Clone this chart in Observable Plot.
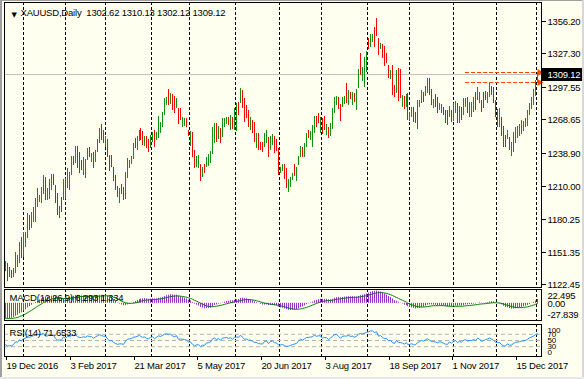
<!DOCTYPE html>
<html><head><meta charset="utf-8">
<script src="https://cdn.jsdelivr.net/npm/d3@7"></script>
<script src="https://cdn.jsdelivr.net/npm/@observablehq/plot@0.6"></script>
<style>
html,body{margin:0;padding:0;background:#fffff0;}
#chart{position:relative;width:584px;height:379px;overflow:hidden;background:#fffff0;}
#chart svg{position:absolute;left:0;}
#chart svg text{letter-spacing:-0.2px;}
.edge{position:absolute;}
</style></head><body><div id="chart"></div>
<script>
// ---- data (XAUUSD daily) ----
const symbolTitle = "XAUUSD,Daily  1302.62 1310.13 1302.12 1309.12";
const barDir =
 "GRRRGGGGRG"+"GGRGGGGGGG"+"RGGGRRRGRG"+"RGGGRGRRRG"+"GGRGRGGGRR"+
 "GRRRRRRGRR"+"GGGGGRGGRR"+"GRRGGRGGGG"+"GGRGRRGRRG"+"GRRGRRGGRG"+
 "RGGGGGRGRG"+"GGRGRGGRGR"+"RRRGRRGRRR"+"GGRGGRRRGG"+"RRGGGRGGGR"+
 "GGRGGGRRGR"+"RGRGGGGRRG"+"GRGRGRGGRG"+"GGRGGRRRGR"+"RRRGRRGRRG"+
 "RGRGGRRGGG"+"RGGRRGRRGG"+"RRRGRGGRGR"+"GGRGGGRGGR"+"RRGGRRRGGR"+
 "RRGRGGGGGG"+"GGGGGGGG";
const high = [
1143.1,1141.6,1138.1,1135.1,1136.6,1151.1,1148.4,1160.3,1164.1,1169.1,
1169.1,1185.4,1183.9,1186.9,1191.3,1198.7,1207.6,1201.7,1209.0,1219.4,
1217.9,1207.6,1215.8,1220.3,1220.3,1210.5,1203.1,1191.9,1200.2,1215.8,
1216.4,1225.3,1222.3,1236.2,1236.2,1245.1,1245.1,1240.1,1232.7,1235.6,
1233.3,1243.0,1243.9,1238.6,1240.1,1241.6,1251.0,1260.8,1264.6,1259.3,
1254.0,1251.0,1237.1,1237.1,1226.8,1219.4,1209.9,1207.6,1211.4,1208.5,
1222.3,1234.2,1232.7,1236.2,1248.1,1251.9,1254.0,1259.3,1261.3,1258.0,
1254.0,1253.6,1251.0,1255.0,1257.8,1259.3,1257.8,1271.7,1266.6,1275.5,
1287.4,1288.8,1295.3,1291.8,1291.2,1289.4,1287.4,1278.5,1278.5,1271.1,
1269.6,1269.6,1259.3,1258.7,1257.8,1241.5,1236.2,1237.1,1229.1,1226.8,
1229.1,1235.6,1238.0,1241.0,1262.2,1265.8,1265.8,1262.8,1260.8,1269.6,
1269.6,1270.5,1270.5,1272.6,1270.5,1278.5,1282.9,1284.4,1296.2,1294.7,
1287.4,1281.4,1277.0,1270.5,1268.1,1266.6,1256.3,1256.3,1248.9,1248.9,
1256.9,1259.3,1253.3,1253.9,1255.7,1253.9,1251.0,1243.0,1226.8,1229.1,
1229.1,1225.3,1215.5,1217.9,1220.9,1229.1,1226.2,1236.2,1245.1,1244.5,
1248.0,1256.9,1259.3,1258.7,1263.7,1271.7,1271.7,1274.1,1271.1,1269.6,
1271.7,1264.6,1262.2,1265.2,1279.1,1288.3,1289.4,1288.3,1282.3,1288.3,
1289.4,1301.3,1294.8,1293.3,1293.3,1291.8,1295.6,1313.1,1327.3,1314.9,
1324.3,1329.6,1340.6,1344.4,1344.4,1350.9,1358.3,1340.6,1336.1,1335.5,
1333.8,1327.3,1316.9,1312.5,1316.9,1299.2,1312.5,1314.0,1313.1,1290.3,
1289.4,1291.2,1291.8,1275.5,1279.4,1280.0,1275.5,1285.9,1285.9,1294.7,
1293.3,1298.3,1305.1,1305.1,1295.3,1286.5,1291.2,1288.8,1283.5,1282.3,
1279.9,1277.0,1277.0,1280.5,1277.0,1282.9,1285.0,1282.9,1280.5,1279.9,
1287.3,1287.3,1288.8,1284.4,1284.4,1288.8,1293.3,1297.1,1293.3,1285.9,
1293.3,1294.1,1293.3,1300.6,1298.3,1297.1,1285.9,1277.6,1278.5,1271.1,
1262.8,1254.8,1259.3,1252.8,1248.9,1257.8,1262.2,1262.8,1264.6,1268.1,
1267.5,1269.6,1277.0,1282.9,1288.8,1295.3,1303.4,1310.13];
const low = [
1134.6,1125.7,1129.2,1127.8,1129.2,1132.2,1138.1,1141.1,1145.5,1147.0,
1155.8,1163.2,1170.6,1172.1,1178.0,1178.0,1191.3,1195.8,1194.3,1202.5,
1197.2,1197.2,1198.1,1206.1,1210.5,1194.3,1183.9,1181.0,1186.9,1197.2,
1198.1,1207.6,1206.1,1219.4,1228.3,1229.7,1225.3,1220.9,1223.8,1219.4,
1217.0,1232.7,1235.0,1231.2,1225.9,1231.2,1240.1,1247.5,1250.4,1247.5,
1244.5,1235.0,1223.2,1226.8,1214.4,1206.1,1199.6,1194.9,1202.5,1197.2,
1197.8,1216.4,1225.3,1229.2,1233.3,1243.0,1241.6,1249.5,1250.4,1246.0,
1245.1,1243.0,1240.1,1243.5,1248.9,1243.9,1250.4,1251.9,1256.9,1262.2,
1272.6,1281.4,1281.4,1282.3,1277.0,1274.6,1278.5,1264.6,1268.1,1262.2,
1262.8,1262.2,1254.0,1245.1,1235.6,1225.3,1226.2,1225.3,1214.3,1217.3,
1220.9,1226.2,1227.4,1229.7,1238.0,1247.5,1249.0,1251.0,1247.5,1253.4,
1262.2,1264.6,1263.7,1259.3,1259.9,1259.3,1258.7,1272.6,1282.9,1278.5,
1266.6,1269.6,1262.2,1259.3,1256.9,1248.9,1243.0,1241.5,1241.5,1240.0,
1243.9,1247.5,1235.6,1241.5,1246.0,1238.6,1240.5,1219.4,1220.9,1223.2,
1215.5,1207.6,1204.6,1209.0,1214.9,1218.5,1214.4,1228.2,1235.6,1235.6,
1235.6,1243.9,1251.9,1250.4,1243.9,1256.9,1261.6,1265.8,1256.9,1255.7,
1259.3,1254.8,1251.9,1254.0,1259.9,1274.7,1281.5,1277.6,1267.6,1280.0,
1282.3,1282.9,1281.5,1286.5,1281.5,1284.4,1277.0,1296.2,1308.1,1303.0,
1297.7,1311.0,1330.8,1333.2,1337.6,1333.2,1342.6,1325.8,1330.8,1322.8,
1316.0,1319.0,1305.1,1304.2,1290.3,1288.3,1291.8,1285.3,1287.4,1280.0,
1277.6,1280.0,1268.1,1267.5,1271.1,1266.6,1265.8,1260.1,1280.0,1282.9,
1284.4,1289.4,1291.8,1290.3,1281.4,1278.5,1280.0,1274.0,1277.0,1274.6,
1272.6,1265.2,1263.7,1271.1,1266.6,1267.5,1274.0,1265.8,1265.8,1268.1,
1272.6,1279.9,1274.0,1271.1,1271.1,1275.5,1277.0,1285.9,1282.9,1275.5,
1278.5,1285.9,1282.9,1288.8,1290.3,1283.5,1271.1,1261.6,1262.2,1253.9,
1244.5,1243.9,1251.0,1241.5,1236.2,1240.0,1247.4,1251.9,1253.9,1255.7,
1258.7,1262.2,1262.8,1272.6,1277.6,1281.4,1289.0,1302.12];
const close = [
1141.0,1129.7,1131.4,1129.6,1134.8,1146.4,1145.8,1155.5,1150.2,1163.6,
1165.8,1179.9,1173.9,1183.2,1188.0,1193.5,1203.5,1200.2,1205.3,1215.2,
1202.4,1205.0,1211.4,1216.7,1213.0,1198.4,1188.7,1189.2,1190.2,1211.2,
1202.7,1220.9,1218.2,1232.0,1230.3,1241.3,1230.3,1225.7,1226.0,1231.6,
1229.2,1240.4,1237.2,1236.8,1229.5,1239.0,1248.3,1257.5,1254.0,1250.5,
1251.6,1239.0,1226.7,1229.4,1217.5,1209.4,1202.2,1204.4,1204.7,1200.0,
1216.2,1229.8,1230.9,1234.5,1244.4,1245.2,1250.9,1256.9,1253.1,1249.0,
1251.8,1245.6,1242.8,1252.1,1255.6,1247.7,1256.0,1266.8,1264.2,1272.2,
1283.7,1287.0,1284.9,1289.4,1280.6,1278.3,1285.2,1268.1,1270.7,1268.9,
1267.9,1264.1,1255.3,1255.3,1241.2,1229.4,1233.7,1234.2,1218.0,1224.4,
1223.0,1233.3,1235.4,1238.2,1256.2,1261.2,1253.2,1259.9,1250.8,1265.6,
1267.8,1269.0,1265.4,1269.3,1262.5,1273.7,1276.9,1275.5,1292.9,1282.5,
1271.8,1272.5,1265.9,1267.7,1259.7,1253.3,1253.0,1245.2,1243.4,1242.2,
1253.6,1256.3,1240.0,1250.8,1253.3,1242.4,1241.5,1225.3,1225.3,1227.6,
1218.9,1212.0,1212.8,1215.7,1219.4,1221.2,1223.2,1234.2,1242.7,1237.8,
1244.9,1253.6,1253.8,1256.6,1258.7,1268.0,1264.1,1267.9,1267.5,1259.2,
1262.4,1262.2,1254.5,1262.4,1274.3,1284.9,1287.4,1280.3,1271.3,1286.2,
1287.6,1287.5,1291.5,1288.2,1290.3,1286.2,1291.0,1308.9,1312.9,1312.0,
1317.7,1325.0,1333.3,1341.6,1342.7,1337.6,1346.5,1329.5,1334.8,1326.0,
1320.5,1321.1,1308.1,1310.4,1297.0,1291.0,1307.3,1292.5,1293.8,1287.7,
1280.6,1288.4,1274.0,1273.5,1277.3,1270.0,1268.2,1279.5,1284.4,1291.8,
1286.6,1296.1,1301.8,1294.0,1284.9,1284.5,1282.8,1277.7,1281.9,1280.4,
1274.4,1268.2,1267.0,1278.2,1269.2,1279.0,1282.3,1270.1,1276.8,1271.1,
1283.6,1285.5,1277.7,1281.1,1281.1,1285.5,1281.1,1294.3,1290.7,1278.1,
1282.2,1287.9,1290.7,1297.6,1292.3,1286.9,1274.8,1273.6,1274.4,1258.2,
1249.1,1246.6,1257.2,1244.3,1245.7,1253.3,1258.5,1260.1,1261.9,1265.0,
1265.3,1267.7,1273.4,1280.3,1286.0,1291.8,1302.5,1309.12];
const priceTicks = [1356.20, 1327.30, 1297.55, 1268.65, 1238.90, 1210.00, 1180.25, 1151.35, 1122.45];
const bidPrice = 1309.12;
const orderLevels = [1311.0, 1301.6];
const orderFromBar = 231;
const monthStartBar = [9.2, 30.2, 50.3, 73.1, 92.3, 115.4, 137.4, 158.5, 181.5, 202.8, 224.8, 246.6, 266.7];
const dateLabelBar = [0, 32, 64, 96, 128, 160, 192, 224, 256];
const dateLabels = ["19 Dec 2016", "3 Feb 2017", "21 Mar 2017", "5 May 2017", "20 Jun 2017", "3 Aug 2017", "18 Sep 2017", "1 Nov 2017", "15 Dec 2017"];
const macdTitle = "MACD(12,26,9) 6.293 1.334";
const macdScale = [22.495, 0, -27.839];
const macdScaleText = ["22.495", "0.00", "-27.839"];
const rsiTitle = "RSI(14) 71.6533";
const rsiLevels = [70, 50, 30];
const rsiScale = [100, 70, 50, 30, 0];
// indicator state before the first bar (estimated from prior history)
const macdSeed = {ema12: 1155, ema26: 1181, signal: -24};
const rsiSeed = {gain: 2.0, loss: 4.0, prevClose: 1137};

// ---- derived ----
const bars = high.map((h, i) => ({i, high: h, low: low[i], close: close[i], up: barDir[i] === "G"}));
function emaSeries(values, n, seed) { const k = 2 / (n + 1); let e = seed; return values.map(v => (e += k * (v - e))); }
const ema12 = emaSeries(close, 12, macdSeed.ema12);
const ema26 = emaSeries(close, 26, macdSeed.ema26);
const macd = ema12.map((v, i) => v - ema26[i]);
const signal = emaSeries(macd, 9, macdSeed.signal);
let ag = rsiSeed.gain, al = rsiSeed.loss, prev = rsiSeed.prevClose;
const rsi = close.map(c => { const d = c - prev; prev = c; ag = (ag * 13 + Math.max(d, 0)) / 14; al = (al * 13 + Math.max(-d, 0)) / 14; return 100 - 100 / (1 + ag / al); });
bars.forEach((b, i) => { b.macd = macd[i]; b.signal = signal[i]; b.rsi = rsi[i]; });

const UP = "#109010", DOWN = "#ff0000", ORANGE = "#ff4500";
const style = {fontFamily: "'Liberation Sans', Arial, sans-serif", fontSize: "9.5px", background: "transparent", color: "black", overflow: "visible"};
const xOpt = {domain: [-0.502, 269.0], round: true, axis: null};
const W = 584, ML = 4, MR = 43;
const grid = () => Plot.ruleX(monthStartBar, {stroke: "black", strokeWidth: 1, strokeDasharray: "3,2"});
const NS = "http://www.w3.org/2000/svg";
const el = (tag, attrs, txt) => { const e = document.createElementNS(NS, tag); for (const k in attrs) e.setAttribute(k, attrs[k]); if (txt != null) e.textContent = txt; return e; };

const main = Plot.plot({
  width: W, height: 289, marginLeft: ML, marginRight: MR, marginTop: 2, marginBottom: 2,
  style,
  x: xOpt,
  y: {domain: [1120.05, 1372.78], round: true},
  marks: [
    grid(),
    Plot.ruleY([bidPrice], {stroke: "#c0c0c0"}),
    Plot.ruleX(bars, {x: "i", y1: "low", y2: "high", stroke: d => d.up ? UP : DOWN, strokeWidth: 1}),
    Plot.ruleY(orderLevels, {x1: orderFromBar, x2: bars.length - 0.5, stroke: ORANGE, strokeDasharray: "4,2"}),
    Plot.dot(orderLevels, {x: bars.length, y: d => d, symbol: "triangle", rotate: 90, r: 2.6, fill: ORANGE, stroke: "none"}),
    Plot.axisY({anchor: "right", ticks: priceTicks, tickSize: 4, tickPadding: 2, tickFormat: d3.format(".2f"), label: null}),
    Plot.frame({stroke: "black"}),
    (index, scales) => {
      const yy = Math.round(scales.y(bidPrice));
      const g = el("g", {"text-anchor": "start"});
      g.appendChild(el("rect", {x: 542, y: yy - 6, width: 40, height: 13, fill: "black"}));
      g.appendChild(el("text", {x: 547.5, y: yy + 0.5, fill: "white", "text-anchor": "start", "dominant-baseline": "central"}, bidPrice.toFixed(2)));
      return g;
    },
    Plot.text(["\u25BC"], {frameAnchor: "top-left", dx: 7, dy: 10, fontSize: 7, fontFamily: "DejaVu Sans", fill: "black"}),
    Plot.text([symbolTitle], {frameAnchor: "top-left", dx: 16, dy: 10.5, lineAnchor: "middle", fill: "black"})
  ]
});
main.style.top = "0px";

const macdPlot = Plot.plot({
  width: W, height: 33, marginLeft: ML, marginRight: MR, marginTop: 1, marginBottom: 1,
  style,
  x: xOpt,
  y: {domain: [macdScale[2], macdScale[0]], axis: null},
  marks: [
    grid(),
    Plot.ruleX(bars, {x: "i", y1: 0, y2: "macd", stroke: "#9932cc", strokeWidth: 1}),
    Plot.line(bars, {x: "i", y: "signal", stroke: "#008000", strokeWidth: 1}),
    Plot.frame({stroke: "black"}),
    Plot.text([macdTitle], {frameAnchor: "top-left", dx: 5, dy: 8, lineAnchor: "middle", fill: "black"}),
    Plot.text([0], {y: () => macdScale[0], text: () => macdScaleText[0], frameAnchor: "right", dx: 6, dy: 6, textAnchor: "start", fill: "black"}),
    Plot.text([0], {y: () => macdScale[1], text: () => macdScaleText[1], frameAnchor: "right", dx: 6, dy: 0.5, textAnchor: "start", fill: "black"}),
    Plot.text([0], {y: () => macdScale[2], text: () => macdScaleText[2], frameAnchor: "right", dx: 6, dy: -6, textAnchor: "start", fill: "black"})
  ]
});
macdPlot.style.top = "288px";

const rsiPlot = Plot.plot({
  width: W, height: 57, marginLeft: ML, marginRight: MR, marginTop: 2, marginBottom: 23,
  style,
  x: {...xOpt},
  y: {domain: [0, 100], inset: 0.5, axis: null},
  marks: [
    grid(),
    Plot.ruleY(rsiLevels, {stroke: "#b4b4b4", strokeDasharray: "4,3"}),
    Plot.line(bars, {x: "i", y: "rsi", stroke: "#1e90ff", strokeWidth: 1}),
    Plot.frame({stroke: "black"}),
    Plot.text([rsiTitle], {frameAnchor: "top-left", dx: 5, dy: 8, lineAnchor: "middle", fill: "black"}),
    Plot.text(rsiScale.filter(d => d !== 100 && d !== 0), {y: d => d, text: d => String(d), frameAnchor: "right", dx: 6, textAnchor: "start", fill: "black", fontSize: 8}),
    Plot.text([rsiScale[0]], {y: d => d, text: d => String(d), frameAnchor: "right", dx: 6, dy: 5, textAnchor: "start", fill: "black", fontSize: 8}),
    Plot.text([rsiScale[4]], {y: d => d, text: d => String(d), frameAnchor: "right", dx: 6, dy: -4, textAnchor: "start", fill: "black", fontSize: 8}),
    Plot.axisX(dateLabelBar, {anchor: "bottom", tickSize: 4, tickPadding: 2, textAnchor: "start", dx: 1,
      tickFormat: d => dateLabels[dateLabelBar.indexOf(d)], label: null})
  ]
});
rsiPlot.style.top = "322px";

const chart = document.getElementById("chart");
chart.append(main, macdPlot, rsiPlot);
// window edges
[["left:0;top:0;width:2px;height:379px;background:#a0a0a0"],
 ["left:0;top:0;width:584px;height:1px;background:#a0a0a0"],
 ["left:582px;top:0;width:2px;height:379px;background:#d8d8d8"],
 ["left:0;top:377px;width:584px;height:2px;background:#e8e8e8"]].forEach(([s]) => {
  const d = document.createElement("div"); d.className = "edge"; d.style.cssText = s; chart.appendChild(d);
});
</script></body></html>
